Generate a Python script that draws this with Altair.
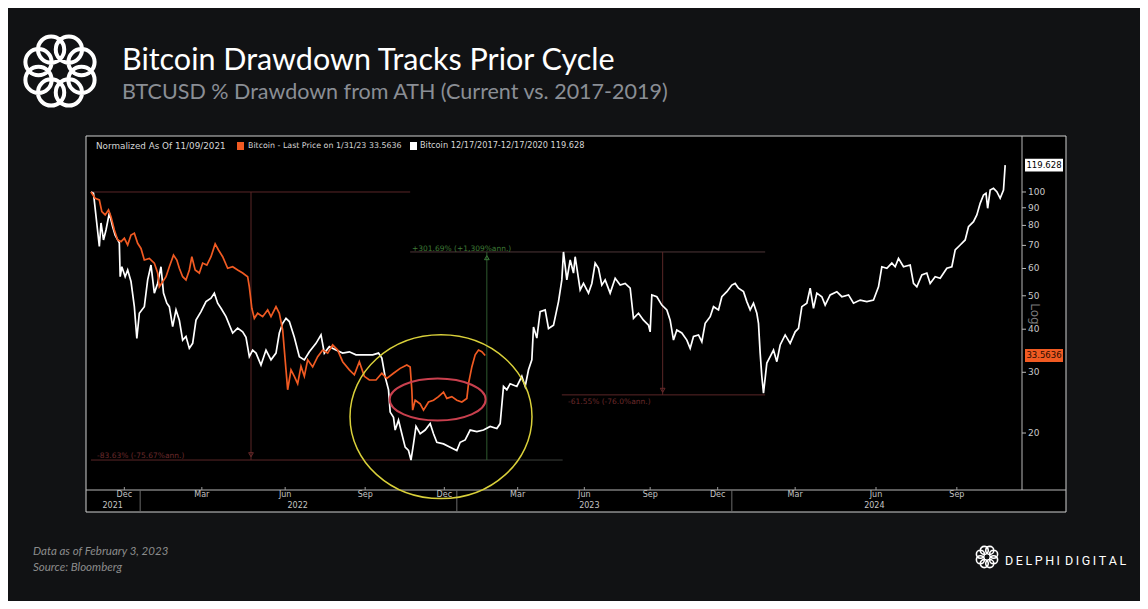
import math
import altair as alt
import pandas as pd

W, H = 1132, 593
BG = "#111214"

# ---------------- data (x = position index on chart axis, v = normalized level) ----------------
white = [(0,100),(3,99.1),(10,69.5),(12,81.3),(15,72.6),(18,77.6),(22,86.9),(26,79.3),(29,75.0),(34,71.2),
         (35,56.8),(37,60.7),(41,56.8),(44,59.4),(48,55.0),(52,46.5),(55,37.6),(58,44.5),(64,46.5),(68,55.6),
         (72,61.4),(76,50.9),(80,54.4),(84,60.7),(87,50.9),(91,47.6),(94,46.5),(98,40.7),(102,45.5),(106,42.5),
         (110,37.2),(114,38.1),(118,35.2),(122,36.4),(126,42.5),(132,45.0),(138,48.1),(144,49.2),(148,50.9),(152,47.6),
         (156,46.0),(162,43.5),(170,39.0),(176,40.3),(182,39.3),(186,37.9),(190,33.3),(194,34.8),(198,34.1),(204,31.5),
         (210,34.8),(216,32.6),(222,34.1),(226,39.0),(230,41.6),(234,43.0),(238,42.1),(244,37.9),(250,33.3),(256,32.6),
         (262,34.4),(270,36.4),(276,38.5),(280,34.1),(286,35.6),(294,34.8),(302,34.1),(310,34.4),(318,33.7),(326,33.7),
         (338,33.7),(345,34.1),(349,33.0),(353,29.1),(357,26.7),(359,23.0),(363,22.2),(365,20.4),(369,21.8),(373,19.9),
         (377,18.2),(381,17.8),(384,16.7),(387,18.6),(390,20.9),(395,19.9),(401,20.4),(407,21.3),(411,19.9),(415,18.8),
         (423,18.6),(431,18.2),(439,17.8),(443,18.8),(449,19.1),(455,20.4),(463,20.2),(471,20.4),(479,20.9),(487,20.6),
         (491,21.3),(495,27.3),(499,26.7),(503,27.8),(511,27.3),(517,29.2),(521,27.3),(525,30.5),(529,32.6),(531,40.6),
         (535,37.7),(539,45.0),(545,45.5),(549,40.2),(555,41.1),(561,48.1),(565,55.6),(567,67.0),(571,55.6),(575,63.5),
         (579,58.2),(581,64.9),(587,52.0),(591,54.3),(597,50.9),(601,54.3),(605,62.2),(609,60.1),(613,53.7),(617,55.6),
         (623,50.9),(629,56.2),(635,53.7),(641,54.3),(647,52.6),(651,43.0),(657,44.5),(663,42.5),(669,41.1),(671,39.3),
         (673,50.3),(679,49.7),(685,47.0),(691,45.5),(695,42.5),(699,37.2),(703,39.8),(709,39.0),(715,37.2),(719,35.2),
         (723,38.1),(729,38.5),(733,36.8),(737,41.6),(743,43.5),(747,46.5),(753,45.5),(757,49.7),(763,51.4),(769,53.7),
         (773,54.3),(777,52.6),(783,51.4),(787,48.1),(791,45.5),(795,47.6),(799,44.5),(801,41.6),(803,34.1),(805,29.2),
         (807,26.1),(811,31.9),(815,33.3),(819,34.8),(823,32.2),(827,36.0),(833,38.5),(839,36.4),(845,39.3),(849,40.2),
         (853,46.5),(859,47.6),(863,52.6),(867,46.0),(871,50.9),(877,49.7),(881,47.0),(887,50.3),(895,51.4),(901,49.7),
         (909,50.3),(915,47.6),(923,48.6),(931,48.1),(939,48.6),(945,53.1),(949,60.7),(955,60.1),(961,62.2),(965,60.7),
         (969,64.2),(975,60.7),(983,61.4),(987,54.3),(991,53.1),(997,57.5),(1003,58.2),(1007,54.3),(1013,56.8),(1019,56.2),
         (1027,60.1),(1033,60.7),(1037,67.9),(1043,70.2),(1049,72.6),(1053,79.3),(1059,82.0),(1063,85.8),(1067,92.7),(1071,98.0),
         (1074,99.1),(1076,89.7),(1079,101.3),(1083,102.5),(1087,100.2),(1091,95.9),(1095,101.3),(1097,119.628)]

orange = [(0,100),(5,95.9),(10,94.8),(13,87.7),(17,85.8),(21,88.7),(24,84.8),(28,77.6),(32,72.6),(36,71.8),
          (40,73.4),(44,70.2),(48,75.0),(52,75.9),(56,71.0),(60,68.6),(64,63.5),(70,64.2),(76,62.2),(80,58.2),
          (82,53.1),(86,54.9),(90,56.8),(94,60.7),(99,65.6),(103,63.5),(106,60.1),(110,56.8),(114,55.6),(118,59.4),
          (121,64.9),(125,59.4),(130,58.2),(134,62.2),(139,61.4),(144,64.9),(149,70.7),(153,67.9),(158,64.9),(164,60.1),
          (170,60.7),(176,59.4),(182,58.2),(188,56.8),(190,53.1),(193,46.0),(196,43.0),(200,44.5),(206,43.5),(212,45.5),
          (216,43.5),(222,46.5),(226,44.5),(230,39.8),(234,30.5),(236,26.7),(240,30.5),(244,29.2),(248,27.8),(252,31.2),
          (256,29.2),(260,32.6),(266,31.1),(272,33.3),(278,34.8),(284,34.1),(290,36.0),(296,34.8),(302,32.2),(310,30.5),
          (316,29.5),(322,32.2),(328,29.2),(334,28.5),(342,28.5),(349,29.8),(355,28.8),(363,29.8),(371,30.8),(379,31.5),
          (383,31.1),(385,26.7),(386,23.3),(389,24.9),(395,24.3),(399,23.3),(405,24.6),(411,24.9),(417,25.5),(423,26.3),
          (427,25.2),(433,25.5),(439,24.9),(445,24.6),(451,25.2),(453,27.8),(457,31.1),(461,33.7),(465,34.8),(469,34.4),
          (473,33.5636)]

month_x = [40, 133, 233, 329, 424, 512, 592, 671, 752, 845, 942, 1039]
month_lab = ["Dec", "Mar", "Jun", "Sep", "Dec", "Mar", "Jun", "Sep", "Dec", "Mar", "Jun", "Sep"]
year_x = [26, 248, 598, 940]
year_lab = ["2021", "2022", "2023", "2024"]
year_sep_x = [59, 439, 769]
y_ticks = [20, 30, 40, 50, 60, 70, 80, 90, 100]

last_orange = 33.5636
last_white = 119.628

# annotation segments (x, x2, v, v2, color)
segments = [
    (0, 383, 100, 100, "#5a2627"),
    (192, 192, 100, 16.7, "#5a2627"),
    (0, 383, 16.7, 16.7, "#5a2627"),
    (383, 566, 16.7, 16.7, "#3d403d"),
    (383, 809, 67.0, 67.0, "#4e3638"),
    (475, 475, 67.0, 16.7, "#2f5a2f"),
    (686, 686, 67.0, 25.8, "#5a2627"),
    (565, 809, 25.8, 25.8, "#5a2627"),
]

# ---------------- scales ----------------
xs = alt.Scale(domain=[0, 1116], range=[83, 1013], nice=False, zero=False)
ys = alt.Scale(type="log", domain=[15, 130], range=[468.1, 144.7], nice=False)

one = pd.DataFrame({"a": [0]})
FONT = "DejaVu Sans"


def X(f="x"):
    return alt.X(f"{f}:Q", scale=xs, axis=None)


def Y(f="v"):
    return alt.Y(f"{f}:Q", scale=ys, axis=None)


def txt(s, x, y, size=10, color="white", font=FONT, align="left", baseline="alphabetic", **kw):
    return alt.Chart(one).mark_text(text=s, align=align, baseline=baseline, fontSize=size,
                                    color=color, font=font, **kw).encode(x=alt.value(x), y=alt.value(y))


def circle_path(cx, cy, r):
    return (f"M{cx - r:.3f},{cy:.3f}A{r:.3f},{r:.3f},0,1,0,{cx + r:.3f},{cy:.3f}"
            f"A{r:.3f},{r:.3f},0,1,0,{cx - r:.3f},{cy:.3f}Z")


logo_path = "".join(circle_path(0.62 * math.cos(math.radians(a + 22.5)), 0.62 * math.sin(math.radians(a + 22.5)), 0.35)
                    for a in range(0, 360, 45))

layers = []

# plot box
layers.append(alt.Chart(one).mark_rect(fill="black", stroke="#d0d0d0", strokeWidth=1).encode(
    x=alt.value(78), x2=alt.value(1058), y=alt.value(128), y2=alt.value(504)))
# axis lines
layers.append(alt.Chart(one).mark_rule(color="#b8b8b8", strokeWidth=1).encode(
    x=alt.value(78), x2=alt.value(1058), y=alt.value(482)))
layers.append(alt.Chart(one).mark_rule(color="#b8b8b8", strokeWidth=1).encode(
    x=alt.value(1014), y=alt.value(128), y2=alt.value(482)))

# x axis ticks / labels
mdf = pd.DataFrame({"x": month_x, "lab": month_lab})
layers.append(alt.Chart(mdf).mark_rule(color="#9a9a9a").encode(x=X(), y=alt.value(479), y2=alt.value(482)))
layers.append(alt.Chart(mdf).mark_text(fontSize=8, color="#c4c4c4", font=FONT, baseline="middle").encode(
    x=X(), y=alt.value(487), text="lab:N"))
ydf = pd.DataFrame({"x": year_x, "lab": year_lab})
layers.append(alt.Chart(ydf).mark_text(fontSize=8, color="#c4c4c4", font=FONT, baseline="middle").encode(
    x=X(), y=alt.value(497.5), text="lab:N"))
sdf = pd.DataFrame({"x": year_sep_x})
layers.append(alt.Chart(sdf).mark_rule(color="#6a6a6a").encode(x=X(), y=alt.value(482), y2=alt.value(504)))

# annotation lines
segdf = pd.DataFrame(segments, columns=["x", "x2", "v", "v2", "c"])
layers.append(alt.Chart(segdf).mark_rule(strokeWidth=1).encode(
    x=X(), x2="x2:Q", y=Y(), y2="v2:Q", color=alt.Color("c:N", scale=None)))
tri = pd.DataFrame({"x": [192, 686], "v": [17.3, 26.6]})
layers.append(alt.Chart(tri).mark_point(shape="triangle-down", size=22, color="#6a2a2b", opacity=1,
                                        strokeWidth=1).encode(x=X(), y=Y()))
tri2 = pd.DataFrame({"x": [475], "v": [64.5]})
layers.append(alt.Chart(tri2).mark_point(shape="triangle-up", size=22, color="#3a7a3a", opacity=1,
                                         strokeWidth=1).encode(x=X(), y=Y()))
layers.append(txt("-83.63% (-75.67%ann.)", 89, 450, size=7.5, color="#6b2a2b"))
layers.append(txt("+301.69% (+1,309%ann.)", 404, 243, size=7.5, color="#3e7a36"))
layers.append(txt("-61.55% (-76.0%ann.)", 560, 396, size=7.5, color="#6b2a2b"))

# series
wdf = pd.DataFrame(white, columns=["x", "v"])
odf = pd.DataFrame(orange, columns=["x", "v"])
layers.append(alt.Chart(wdf).mark_line(color="white", strokeWidth=1.7).encode(x=X(), y=Y()))
layers.append(alt.Chart(odf).mark_line(color="#f05a22", strokeWidth=1.7).encode(x=X(), y=Y()))

# highlight ellipses
ell = pd.DataFrame({"x": [420], "v": [22.3]})
layers.append(alt.Chart(ell).mark_point(shape="M-1,0A1,0.9,0,1,0,1,0A1,0.9,0,1,0,-1,0Z", size=33124,
                                        filled=False, color="#d9d03a", strokeWidth=1.5, opacity=1).encode(x=X(), y=Y()))
ell2 = pd.DataFrame({"x": [416], "v": [25.0]})
layers.append(alt.Chart(ell2).mark_point(shape="M-1,0A1,0.4375,0,1,0,1,0A1,0.4375,0,1,0,-1,0Z", size=9216,
                                         filled=False, color="#c9404e", strokeWidth=2, opacity=1).encode(x=X(), y=Y()))

# y axis ticks & labels
tdf = pd.DataFrame({"v": y_ticks})
layers.append(alt.Chart(tdf).mark_rule(color="#b8b8b8").encode(x=alt.value(1014), x2=alt.value(1018), y=Y()))
layers.append(alt.Chart(tdf).mark_text(fontSize=9, color="#c8c8c8", font=FONT, align="left",
                                       baseline="middle").encode(x=alt.value(1020), y=Y(), text="v:Q"))

# last value boxes
rect_path = "M-1,-0.34L1,-0.34L1,0.34L-1,0.34Z"
lw = pd.DataFrame({"v": [last_white], "lab": [f"{last_white:.3f}"]})
lo = pd.DataFrame({"v": [last_orange], "lab": [f"{last_orange:.4f}"]})
layers.append(alt.Chart(lw).mark_point(shape=rect_path, size=1444, filled=True, color="white", opacity=1).encode(
    x=alt.value(1036), y=Y()))
layers.append(alt.Chart(lw).mark_text(fontSize=8.5, color="black", font=FONT, baseline="middle").encode(
    x=alt.value(1036), y=Y(), text="lab:N"))
layers.append(alt.Chart(lo).mark_point(shape=rect_path, size=1444, filled=True, color="#f05a22", opacity=1).encode(
    x=alt.value(1036), y=Y()))
layers.append(alt.Chart(lo).mark_text(fontSize=8.5, color="#2a0c00", font=FONT, baseline="middle").encode(
    x=alt.value(1036), y=Y(), text="lab:N"))

layers.append(txt("Log", 1027, 306, size=12, color="#7a7a7a", align="center", baseline="middle", angle=90))

# legend strip
layers.append(txt("Normalized As Of 11/09/2021", 88, 138, size=8.8, color="#d6d6d6", baseline="middle"))
layers.append(alt.Chart(one).mark_rect(fill="#f05a22").encode(
    x=alt.value(229), x2=alt.value(236), y=alt.value(134), y2=alt.value(142)))
layers.append(txt("Bitcoin - Last Price on 1/31/23 33.5636", 240, 138, size=7.9, color="#d6d6d6", baseline="middle"))
layers.append(alt.Chart(one).mark_rect(fill="white").encode(
    x=alt.value(402), x2=alt.value(409), y=alt.value(134), y2=alt.value(142)))
layers.append(txt("Bitcoin 12/17/2017-12/17/2020 119.628", 412, 138, size=8.2, color="#d6d6d6", baseline="middle"))

# header
layers.append(alt.Chart(one).mark_point(shape=logo_path, size=5625, filled=False, color="white",
                                        strokeWidth=4, opacity=1).encode(x=alt.value(52), y=alt.value(63)))
layers.append(txt("Bitcoin Drawdown Tracks Prior Cycle", 114, 62, size=30.5, color="white", font="Lato"))
layers.append(txt("BTCUSD % Drawdown from ATH (Current vs. 2017-2019)", 114, 91, size=21.5,
                  color="#8a8e95", font="Lato"))

# footer
layers.append(txt("Data as of February 3, 2023", 25, 547, size=11.5, color="#8c8c8c", font="Lato",
                  fontStyle="italic"))
layers.append(txt("Source: Bloomberg", 25, 563, size=11.5, color="#8c8c8c", font="Lato", fontStyle="italic"))
layers.append(alt.Chart(one).mark_point(shape=logo_path, size=529, filled=False, color="white",
                                        strokeWidth=1.6, opacity=1).encode(x=alt.value(979), y=alt.value(549)))
layers.append(txt("D\u2009E\u2009L\u2009P\u2009H\u2009I\u2009\u2009D\u2009I\u2009G\u2009I\u2009T\u2009A\u2009L",
                  997, 553, size=12.5, color="white", font="Roboto", baseline="middle"))

chart = alt.layer(*layers).properties(
    width=W, height=H, background=BG, padding=0,
    autosize=alt.AutoSizeParams(type="none"),
).configure_view(stroke=None)

chart.save("out.html", embed_options={"renderer": "svg", "actions": False})
